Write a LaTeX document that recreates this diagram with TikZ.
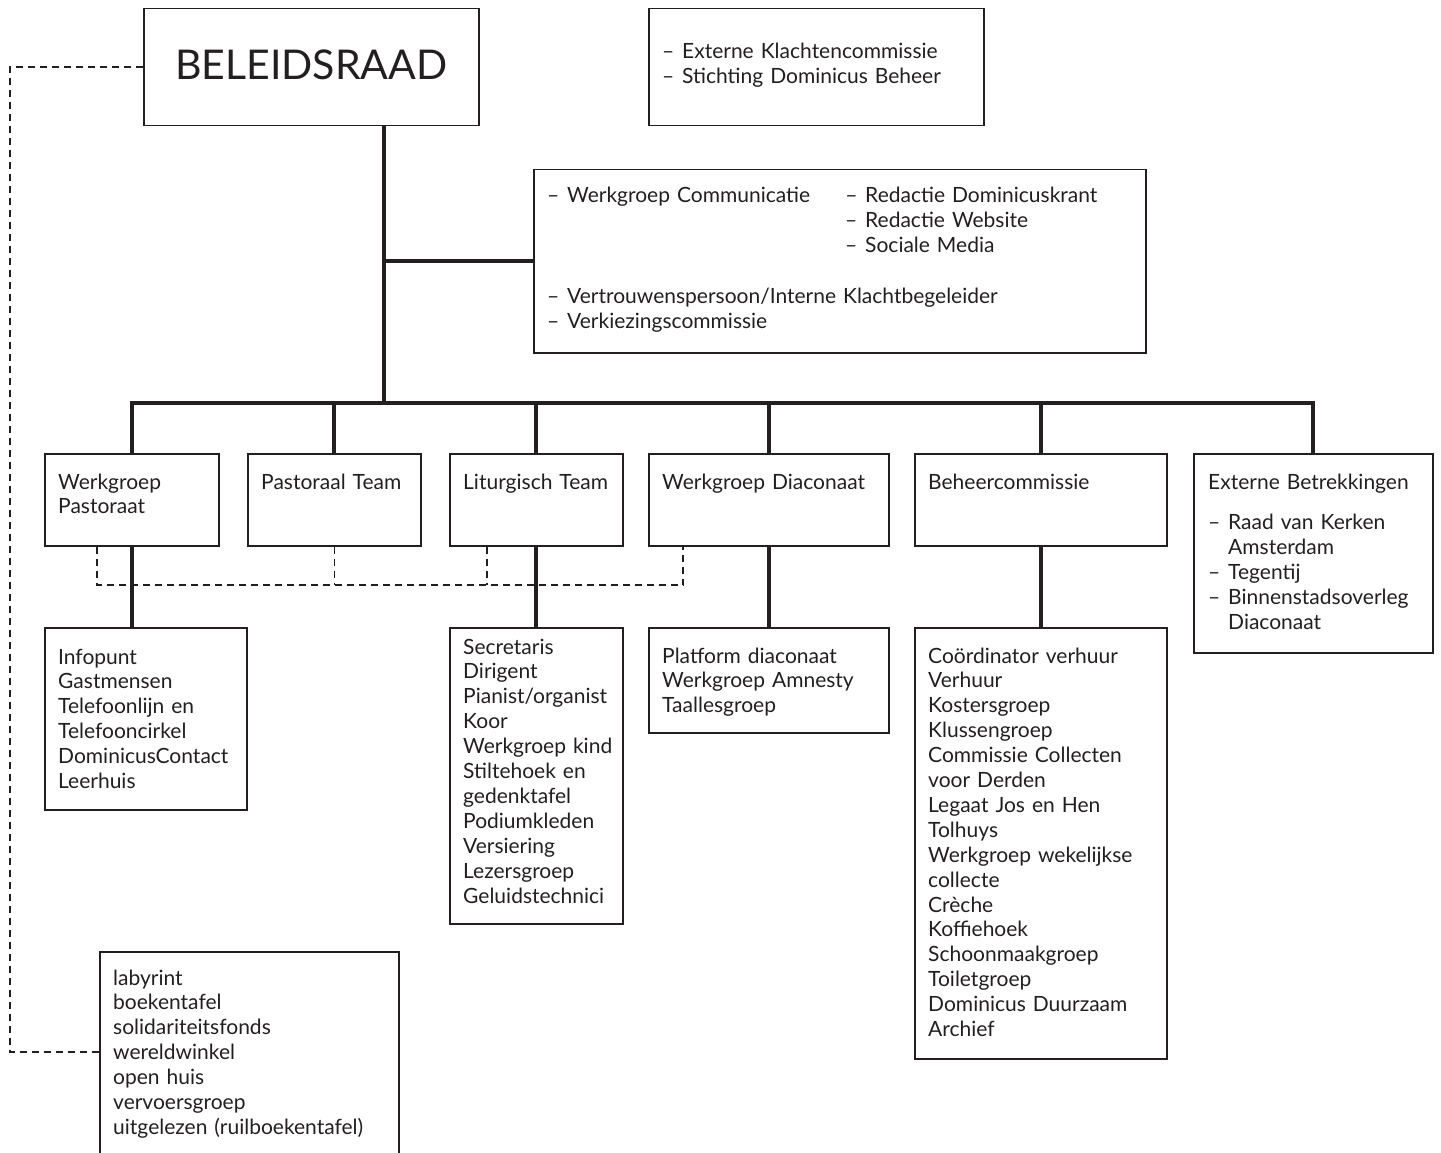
\documentclass[tikz,border=0pt]{standalone}
\usepackage{fontspec}
\setmainfont{Lato}

\definecolor{ink}{HTML}{231F20}
\tikzset{
  box/.style={draw=ink, line width=1.5pt, anchor=north west, inner sep=0pt},
  txt/.style={anchor=base west, align=left, inner sep=0pt, text=ink,
    text width=215pt, font=\fontsize{21}{24.9}\selectfont},
  tree/.style={draw=ink, line width=4pt},
  dashline/.style={draw=ink, line width=1.5pt, dash pattern=on 7pt off 5pt},
}
% list dash and hanging indent
\newcommand{\itm}{\makebox[20pt][l]{–}}
\newcommand{\ind}{\hspace*{20pt}}

\begin{document}
\begin{tikzpicture}[x=1pt, y=-1pt]
  \useasboundingbox (0,0) rectangle (1441,1153);
  % Boxes (placed at their top left corners)
  \node[box, minimum width=335pt, minimum height=117pt, text=ink, text depth=6pt,
    font=\fontsize{41}{41}\selectfont] (board) at (143,8) {BELEIDSRAAD};
  \node[box, minimum width=335pt, minimum height=117pt] (klacht) at (648,8) {};
  \node[box, minimum width=612pt, minimum height=183pt] (comm) at (533,169) {};
  \node[box, minimum width=174pt, minimum height=92pt] (wpast) at (44,453) {};
  \node[box, minimum width=173pt, minimum height=92pt] (pteam) at (247,453) {};
  \node[box, minimum width=173pt, minimum height=92pt] (lteam) at (449,453) {};
  \node[box, minimum width=240pt, minimum height=92pt] (diac) at (648,453) {};
  \node[box, minimum width=252pt, minimum height=92pt] (beheer) at (914,453) {};
  \node[box, minimum width=239pt, minimum height=199pt] (ext) at (1193,453) {};
  \node[box, minimum width=202pt, minimum height=182pt] (info) at (44,627) {};
  \node[box, minimum width=173pt, minimum height=296pt] (secr) at (449,627) {};
  \node[box, minimum width=240pt, minimum height=105pt] (platf) at (648,627) {};
  \node[box, minimum width=252pt, minimum height=431pt] (verhuur) at (914,627) {};
  % runs off the bottom edge, as in the original
  \node[box, minimum width=299pt, minimum height=230pt] (extra) at (99,951) {};

  % Box texts (first baseline)
  \node[txt, text width=310pt] (klacht-t) at (662,59) {\itm Externe Klachtencommissie\\
    \itm Stichting Dominicus Beheer};
  \node[txt, text width=590pt] (comm-t) at (547,203)
    {\makebox[298pt][l]{\itm Werkgroep Communicatie}\itm Redactie Dominicuskrant\\
     \hspace*{298pt}\itm Redactie Website\\
     \hspace*{298pt}\itm Sociale Media\\[26pt]
     \itm Vertrouwenspersoon/Interne Klachtbegeleider\\
     \itm Verkiezingscommissie};
  \node[txt, text width=160pt] (wpast-t) at (58,489) {Werkgroep\\Pastoraat};
  \node[txt, text width=160pt] (pteam-t) at (261,489) {Pastoraal Team};
  \node[txt, text width=160pt] (lteam-t) at (463,489) {Liturgisch Team};
  \node[txt, text width=225pt] (diac-t) at (662,489) {Werkgroep Diaconaat};
  \node[txt, text width=235pt] (beheer-t) at (928,489) {Beheercommissie};
  \node[txt, text width=225pt] (ext-t) at (1208,489) {Externe Betrekkingen\\[16pt]
    \itm Raad van Kerken\\ \ind Amsterdam\\ \itm Tegentij\\
    \itm Binnenstadsoverleg\\ \ind Diaconaat};
  \node[txt, text width=188pt] (info-t) at (58,664) {Infopunt\\Gastmensen\\Telefoonlijn en\\
    Telefooncirkel\\DominicusContact\\Leerhuis};
  \node[txt, text width=160pt] (secr-t) at (463,654) {Secretaris\\Dirigent\\Pianist/organist\\
    Koor\\Werkgroep kind\\Stiltehoek en\\gedenktafel\\Podiumkleden\\
    Versiering\\Lezersgroep\\Geluidstechnici};
  \node[txt, text width=225pt] (platf-t) at (662,663) {Platform diaconaat\\Werkgroep Amnesty\\
    Taallesgroep};
  \node[txt, text width=235pt] (verhuur-t) at (928,663) {Coördinator verhuur\\Verhuur\\
    Kostersgroep\\Klussengroep\\Commissie Collecten\\voor Derden\\
    Legaat Jos en Hen\\Tolhuys\\Werkgroep wekelijkse\\collecte\\Crèche\\
    Koffiehoek\\Schoonmaakgroep\\Toiletgroep\\Dominicus Duurzaam\\Archief};
  \node[txt, text width=280pt] (extra-t) at (113,985) {labyrint\\boekentafel\\solidariteitsfonds\\
    wereldwinkel\\open huis\\vervoersgroep\\uitgelezen (ruilboekentafel)};

  % Solid tree lines
  \coordinate (hub) at (384,403);
  \draw[tree] (board.south -| hub) -- (hub);
  \draw[tree] (comm.west) -- (comm.west -| hub);
  \draw[tree] (wpast.north) -- (wpast.north |- hub) -- (ext.north |- hub) -- (ext.north);
  \foreach \n in {pteam, lteam, diac, beheer}
    \draw[tree] (\n.north) -- (\n.north |- hub);
  \draw[tree] (wpast.south) -- (wpast.south |- info.north);
  \foreach \a/\b in {lteam/secr, diac/platf, beheer/verhuur}
    \draw[tree] (\a.south) -- (\b.north);

  % Dashed links
  \coordinate (dbus) at (0,585);
  \draw[dashline] ([xshift=53pt]wpast.south west) |- ([xshift=35pt]diac.south west |- dbus)
    -- ([xshift=35pt]diac.south west);
  \draw[dashline] (pteam.south) -- (pteam.south |- dbus);
  \draw[dashline] ([xshift=38pt]lteam.south west) -- ([xshift=38pt]lteam.south west |- dbus);
  \draw[dashline] (board.west) -| ([shift={(-89pt,-101pt)}]extra.north west)
    -- ([yshift=-101pt]extra.north west);
\end{tikzpicture}
\end{document}
